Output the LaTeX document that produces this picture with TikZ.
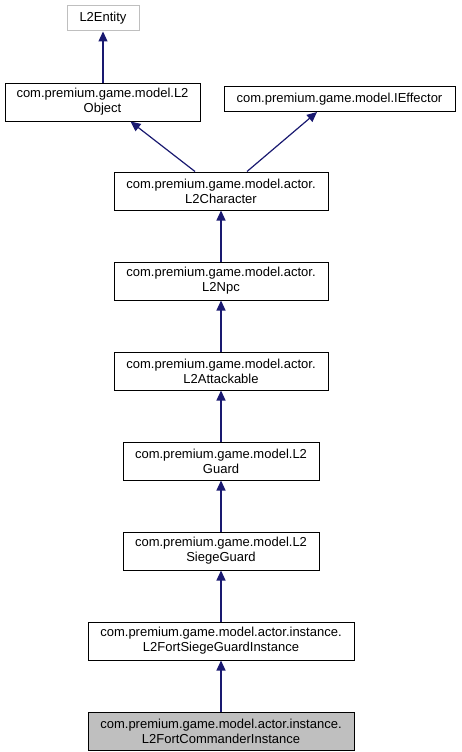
\documentclass[tikz,border=0pt]{standalone}
\usepackage{fontspec}
\setmainfont{Liberation Sans}
\usetikzlibrary{positioning,arrows.meta}
\definecolor{edgeblue}{HTML}{191970}
\definecolor{curfill}{HTML}{BFBFBF}
\definecolor{extgray}{HTML}{BFBFBF}

\begin{document}
\begin{tikzpicture}[
  x=1pt, y=-1pt,
  font=\fontsize{13}{15}\selectfont,
  cls/.style={draw=black, line width=1pt, fill=white, align=center, inner sep=0pt, minimum height=38pt},
  single/.style={cls, minimum height=25pt},
  ext/.style={single, draw=extgray},
  cur/.style={cls, fill=curfill},
  inh/.style={-{Triangle[length=10pt,width=9pt]}, line width=1.2pt, edgeblue}
]
\useasboundingbox (0,0) rectangle (461,752);
\node[ext, minimum width=72pt] (entity) at (103,18.5) {L2Entity};
\node[cls, minimum width=195pt] (object) at (102.5,102) {com.premium.game.model.L2\\Object};
\node[single, minimum width=231pt] (effector) at (339.5,99) {com.premium.game.model.IEffector};
\node[cls, minimum width=214pt] (character) at (221,191) {com.premium.game.model.actor.\\L2Character};
\node[cls, minimum width=214pt, below=51pt of character] (npc) {com.premium.game.model.actor.\\L2Npc};
\node[cls, minimum width=214pt, below=51pt of npc] (attackable) {com.premium.game.model.actor.\\L2Attackable};
\node[cls, minimum width=196pt, below=51pt of attackable] (guard) {com.premium.game.model.L2\\Guard};
\node[cls, minimum width=196pt, below=51pt of guard] (siegeguard) {com.premium.game.model.L2\\SiegeGuard};
\node[cls, minimum width=266pt, below=51pt of siegeguard] (fortguard) {com.premium.game.model.actor.instance.\\L2FortSiegeGuardInstance};
\node[cur, minimum width=266pt, below=51pt of fortguard] (commander) {com.premium.game.model.actor.instance.\\L2FortCommanderInstance};
% inheritance edges, child to parent
\draw[inh] (object.north -| entity) -- (entity);
\draw[inh] ([xshift=-26pt]character.north) -- ([xshift=28pt]object.south);
\draw[inh] ([xshift=26pt]character.north) -- ([xshift=-22.5pt]effector.south);
\draw[inh] (npc) -- (character);
\draw[inh] (attackable) -- (npc);
\draw[inh] (guard) -- (attackable);
\draw[inh] (siegeguard) -- (guard);
\draw[inh] (fortguard) -- (siegeguard);
\draw[inh] (commander) -- (fortguard);
\end{tikzpicture}
\end{document}
